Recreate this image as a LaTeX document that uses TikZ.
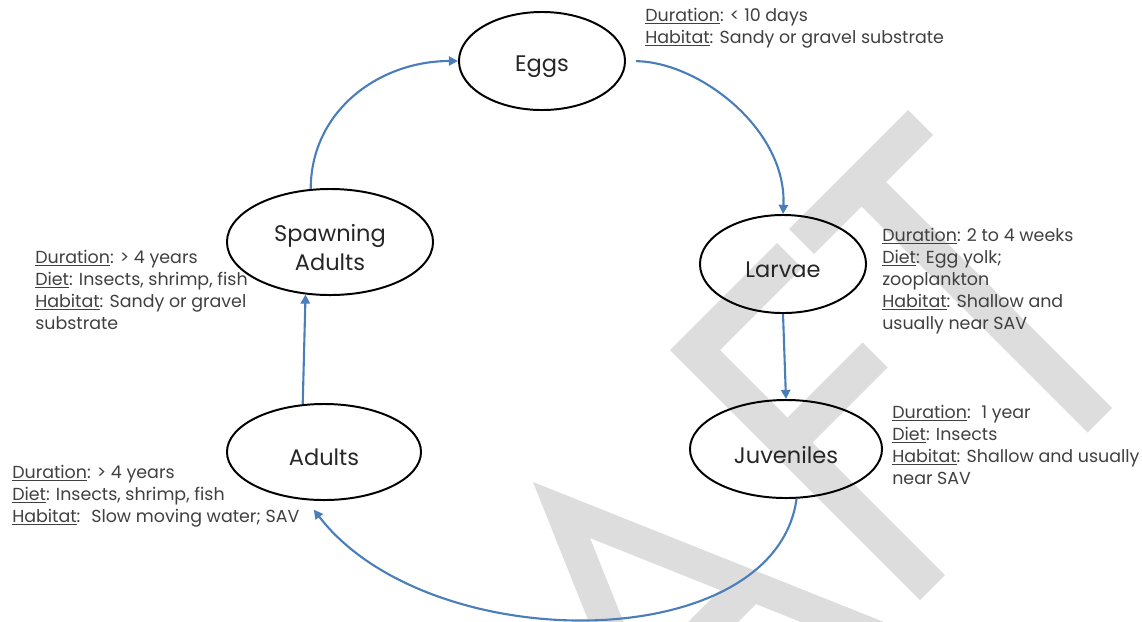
\documentclass[tikz,border=0pt]{standalone}
\usepackage{fontspec}
\setmainfont{Poppins}
\usetikzlibrary{shapes.geometric,arrows.meta}
\definecolor{wmgray}{RGB}{221,221,221}
\definecolor{flowblue}{RGB}{74,126,187}
\definecolor{infogray}{RGB}{64,64,64}
\newcommand{\field}[1]{\underline{#1}:}
\newcommand{\stagetext}[1]{\raisebox{-4pt}[\height][\depth]{#1}}
\begin{document}
\begin{tikzpicture}[x=0.025cm, y=-0.025cm,
  stage/.style={ellipse, draw=black, line width=1.4pt, inner sep=0pt, text=black!85,
    font=\fontsize{16}{20.6}\selectfont, align=center},
  info/.style={anchor=north west, inner sep=0pt, align=left, text=infogray,
    font=\fontsize{12.4}{15.6}\selectfont},
  flow/.style={flowblue, line width=1.5pt, -{Triangle[length=6.5pt,width=6.5pt]}}]

  % Frame
  \useasboundingbox (0,0) rectangle (1142,621);

  % Watermark (A, F, T of the diagonal DRAFT)
  \begin{scope}
    \clip (0,0) rectangle (1142,621);
    \fill[wmgray, even odd rule] (533,482) -- (894,626) -- (677,843) -- cycle
      (590,538) -- (720,590) -- (642,668) -- cycle
      (756,604) -- (870,650) -- (702,818) -- (656,704) -- cycle;
    \fill[wmgray] (670,350) -- (777,243) -- (802,268) -- (720,350) -- (787.5,417.5)
      -- (862.5,342.5) -- (887.5,367.5) -- (812.5,442.5) -- (945,575) -- (920,600) -- cycle;
    \fill[wmgray] (789,229) -- (908,110) -- (933,135) -- (886,182) -- (1112,408)
      -- (1087.5,432.5) -- (861.5,206.5) -- (814,254) -- cycle;
  \end{scope}

  % Life stages
  \node[stage, minimum width=4.15cm, minimum height=2.45cm] (eggs) at (542,61) {\stagetext{Eggs}};
  \node[stage, minimum width=5.15cm, minimum height=2.65cm] (spawn) at (330,242)
    {\stagetext{Spawning}\\\stagetext{Adults}};
  \node[stage, minimum width=4.15cm, minimum height=2.45cm] (larvae) at (783,264) {\stagetext{Larvae}};
  \node[stage, minimum width=4.8cm, minimum height=2.45cm] (juv) at (786,449) {\stagetext{Juveniles}};
  \node[stage, minimum width=4.85cm, minimum height=2.4cm] (adults) at (324,452) {\stagetext{Adults}};

  % Stage notes
  \node[info] (eggsinfo) at (645,8) {\field{Duration} < 10 days\\
    \field{Habitat} Sandy or gravel substrate};
  \node[info] (spawninfo) at (35,250) {\field{Duration} > 4 years\\
    \field{Diet} Insects, shrimp, fish\\\field{Habitat} Sandy or gravel\\substrate};
  \node[info] (larvaeinfo) at (882,228) {\field{Duration} 2 to 4 weeks\\
    \field{Diet} Egg yolk;\\zooplankton\\\field{Habitat} Shallow and\\usually near SAV};
  \node[info] (juvinfo) at (892,405) {\field{Duration}~ 1 year\\
    \field{Diet} Insects\\\field{Habitat} Shallow and usually\\near SAV};
  \node[info] (adultsinfo) at (12,465) {\field{Duration} > 4 years\\
    \field{Diet} Insects, shrimp, fish\\\field{Habitat}~ Slow moving water; SAV};

  % Cycle
  \draw[flow] (spawn.110) .. controls (311,110) and (380,61) .. (eggs.west);
  \draw[flow, shorten <=7pt] (eggs.east) .. controls (700,62) and (787,130) .. (larvae.north);
  \draw[flow] (larvae.south) -- (juv.north);
  \draw[flow, shorten >=8.5pt] (juv.-78) .. controls (775,657) and (429,659) .. (adults.250);
  \draw[flow] (adults.114) -- (spawn.245);

\end{tikzpicture}
\end{document}
